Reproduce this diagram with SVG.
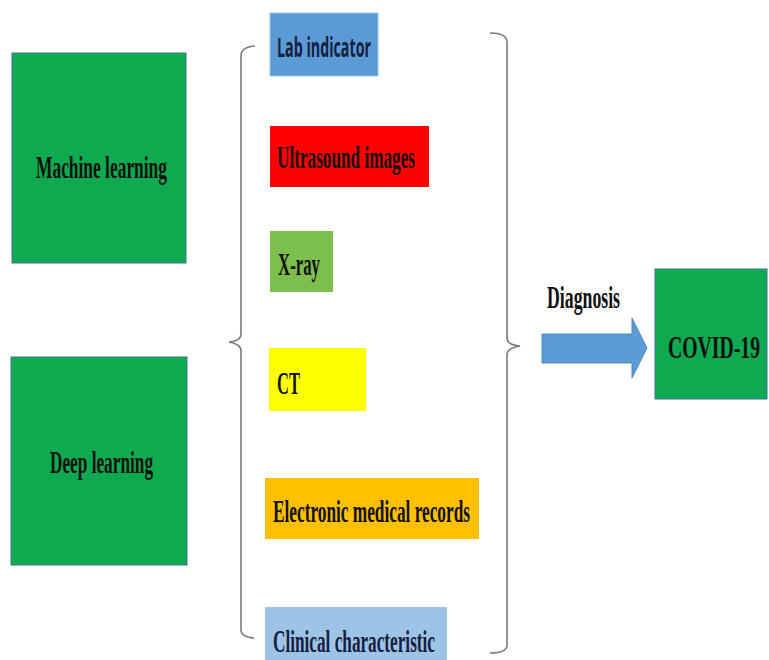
<svg xmlns="http://www.w3.org/2000/svg" width="769" height="660" viewBox="0 0 769 660">
<style>
.box{stroke:#41719C;stroke-width:1}
.green{fill:#0FAA4F}
.t{font-family:"Liberation Serif",serif;font-weight:bold;font-size:32px;fill:#111}
.s{font-family:"Open Sans","Liberation Sans",sans-serif;font-weight:bold;font-size:26px;fill:#14203F}
.brace{fill:none;stroke:#7a7a7a;stroke-width:1.6}
</style>
<rect width="769" height="660" fill="#fff"/>
<g id="machine-learning"><rect class="box green" x="12" y="53" width="174" height="210"/><text class="t" x="36" y="178" textLength="131" lengthAdjust="spacingAndGlyphs">Machine learning</text></g>
<g id="deep-learning"><rect class="box green" x="11" y="357" width="176" height="208"/><text class="t" x="50" y="473" textLength="103" lengthAdjust="spacingAndGlyphs">Deep learning</text></g>
<g id="lab-indicator"><rect x="270" y="13" width="108" height="63" fill="#5B9BD5" stroke="#9DC3E6"/><text class="s" x="277" y="57" textLength="94" lengthAdjust="spacingAndGlyphs">Lab indicator</text></g>
<g id="ultrasound"><rect x="270" y="126" width="159" height="61" fill="#FF0000"/><text class="t" x="277" y="168" textLength="138" lengthAdjust="spacingAndGlyphs">Ultrasound images</text></g>
<g id="xray"><rect x="270" y="231" width="63" height="61" fill="#7CBF4C"/><text class="t" x="278" y="275" textLength="42" lengthAdjust="spacingAndGlyphs">X-ray</text></g>
<g id="ct"><rect x="269" y="348" width="97" height="63" fill="#FFFF00"/><text class="t" x="277" y="394" textLength="23" lengthAdjust="spacingAndGlyphs">CT</text></g>
<g id="emr"><rect x="265" y="478" width="214" height="61" fill="#FFC000"/><text class="t" x="273" y="522" textLength="197" lengthAdjust="spacingAndGlyphs">Electronic medical records</text></g>
<g id="clinical"><rect x="265" y="607" width="182" height="60" fill="#9DC3E6"/><text class="t" x="273" y="652" textLength="162" lengthAdjust="spacingAndGlyphs" style="fill:#14203F">Clinical characteristic</text></g>
<g id="covid"><rect class="box green" x="655" y="269" width="112" height="130"/><text class="t" transform="translate(668,358) scale(0.617,1)">COVID-19</text></g>
<g id="connectors">
<path class="brace" d="M255,46 Q241,47 241,56 L241,334 Q241,341 229,342 Q241,344 241,351 L241,630 Q241,637 254,638"/>
<path class="brace" d="M490,33 Q507,33 507,42 L507,338 Q507,345 520,346 Q507,348 507,355 L507,645 Q507,653 490,653"/>
<text class="t" x="547" y="308" textLength="73" lengthAdjust="spacingAndGlyphs">Diagnosis</text>
<path d="M542,334 L632,334 L632,318 L647,348 L632,378 L632,363 L542,363 Z" fill="#5B9BD5" stroke="#4F88C0" stroke-width="1"/>
</g>
</svg>
